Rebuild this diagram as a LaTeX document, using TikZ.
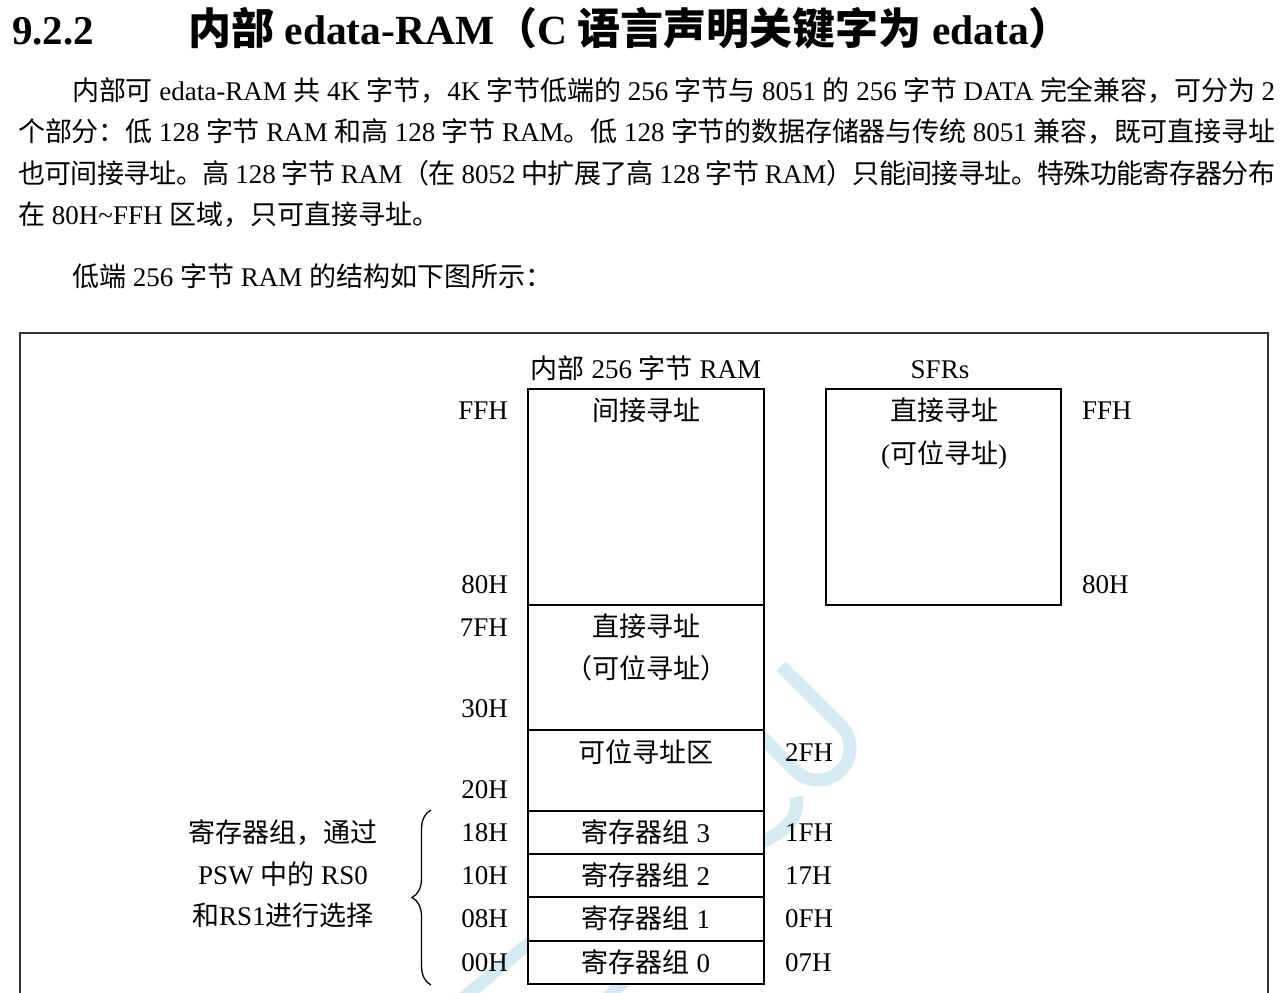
\documentclass[tikz,border=0pt]{standalone}
\usepackage{fontspec}
\setmainfont{Liberation Serif}
\setsansfont{Noto Sans CJK SC}
\usetikzlibrary{decorations.pathreplacing}
% automatic switch between Latin (Liberation Serif) and CJK (Noto Sans CJK SC)
\newXeTeXintercharclass\CJKcls
\newcount\cjkc
\def\setcjkrange#1#2{\cjkc=#1\relax
  \loop\XeTeXcharclass\cjkc=\CJKcls\relax\ifnum\cjkc<#2\advance\cjkc by 1\relax\repeat}
\setcjkrange{"4E00}{"9FFF}
\setcjkrange{"3000}{"303F}
\setcjkrange{"FF00}{"FFEF}
\def\tocjk{\sffamily}
\def\tolat{\rmfamily}
\XeTeXinterchartoks 0 \CJKcls = {\tocjk}
\XeTeXinterchartoks 4095 \CJKcls = {\tocjk}
\XeTeXinterchartoks \CJKcls 0 = {\tolat}
\XeTeXinterchartoks \CJKcls 4095 = {\tolat}
\XeTeXinterchartoks \CJKcls \CJKcls = {\hskip 0pt plus 3pt minus 1.5pt\relax}
\XeTeXinterchartokenstate=1
\definecolor{wmblue}{RGB}{214,234,243}
\tikzset{
  body/.style={anchor=base west, inner sep=0pt, font=\fontsize{27}{32}\selectfont},
  lab/.style={inner sep=0pt, font=\fontsize{27}{32}\selectfont},
  cell/.style={draw=black, line width=1.6pt, fill=white, inner sep=0pt},
  frameline/.style={draw=black!80, line width=1.5pt},
  wm/.style={draw=wmblue, line width=13pt},
  bracestyle/.style={draw=black, line width=1.3pt, decorate, decoration={brace, amplitude=19pt}},
}
\begin{document}
\begin{tikzpicture}[x=1pt,y=-1pt]
\useasboundingbox (0,0) rectangle (1286,993);
% heading
\node[anchor=base west, inner sep=0pt, font=\fontsize{41}{48}\selectfont\bfseries] (secnum) at (12,44) {9.2.2};
\node[anchor=base west, inner sep=0pt, font=\fontsize{41}{48}\selectfont\bfseries] (title) at (188,44)
  {\def\tocjk{\sffamily\fontsize{43}{48}\selectfont}\def\tolat{\rmfamily\fontsize{41.5}{48}\selectfont}内部 edata-RAM（C 语言声明关键字为 edata）};
% paragraph
\node[body] (p1) at (72,100) {\hbox to 1203pt{内部可 edata-RAM 共 4K 字节，4K 字节低端的 256 字节与 8051 的 256 字节 DATA 完全兼容，可分为 2}};
\node[body] (p2) at (18,141) {\hbox to 1257pt{个部分：低 128 字节 RAM 和高 128 字节 RAM。低 128 字节的数据存储器与传统 8051 兼容，既可直接寻址}};
\node[body] (p3) at (18,183) {\hbox to 1257pt{也可间接寻址。高 128 字节 RAM（在 8052 中扩展了高 128 字节 RAM）只能间接寻址。特殊功能寄存器分布}};
\node[body] (p4) at (18,224) {在 80H\textasciitilde FFH 区域，只可直接寻址。};
\node[body] (p5) at (72,286) {低端 256 字节 RAM 的结构如下图所示：};
% frame
\coordinate (fbl) at (20,1000);
\coordinate (ftl) at (20,333);
\coordinate (ftr) at (1268,333);
\coordinate (fbr) at (1268,1000);
\draw[frameline] (fbl) -- (ftl) -- (ftr) -- (fbr);
% watermark
\draw[wm] (781,666) -- (840.6,725.4) arc[start angle=-45, end angle=135, radius=32] -- (740,715);
\draw[wm] (796,797) .. controls (800,815) and (788,832) .. (755,845);
\draw[wm] (545,930) -- (455,1005);
\draw[wm] (650,955) -- (600,1005);
% RAM cells
\node[cell, minimum width=236pt, minimum height=216pt] (ind) at (646,497) {};
\node[cell, minimum width=236pt, minimum height=125pt] (dir) at (646,667.5) {};
\node[cell, minimum width=236pt, minimum height=81pt] (bit) at (646,770.5) {};
\node[cell, minimum width=236pt, minimum height=43pt] (rb3) at (646,832.5) {};
\node[cell, minimum width=236pt, minimum height=43pt] (rb2) at (646,875.5) {};
\node[cell, minimum width=236pt, minimum height=44pt] (rb1) at (646,919) {};
\node[cell, minimum width=236pt, minimum height=43pt] (rb0) at (646,962.5) {};
% SFR cell
\node[cell, minimum width=235pt, minimum height=216pt] (sfr) at (943.5,497) {};
% titles
\node[lab, anchor=base] (ramtitle) at (646,378) {内部 256 字节 RAM};
\node[lab, anchor=base] (sfrtitle) at (940,378) {SFRs};
% cell texts
\node[lab, anchor=base] (tind) at (646,420) {间接寻址};
\node[lab, anchor=base] (tdir1) at (646,636) {直接寻址};
\node[lab, anchor=base] (tdir2) at (646,678) {（可位寻址）};
\node[lab, anchor=base] (tbit) at (646,762) {可位寻址区};
\node[lab, anchor=base] (trb3) at (646,842) {寄存器组 3};
\node[lab, anchor=base] (trb2) at (646,885) {寄存器组 2};
\node[lab, anchor=base] (trb1) at (646,928) {寄存器组 1};
\node[lab, anchor=base] (trb0) at (646,972) {寄存器组 0};
\node[lab, anchor=base] (tsfr1) at (944,420) {直接寻址};
\node[lab, anchor=base] (tsfr2) at (944,463) {(可位寻址)};
% left addresses
\node[lab, anchor=base east] (aFF) at (508,419) {FFH};
\node[lab, anchor=base east] (a80) at (508,593) {80H};
\node[lab, anchor=base east] (a7F) at (508,636) {7FH};
\node[lab, anchor=base east] (a30) at (508,717) {30H};
\node[lab, anchor=base east] (a20) at (508,798) {20H};
\node[lab, anchor=base east] (a18) at (508,841) {18H};
\node[lab, anchor=base east] (a10) at (508,884) {10H};
\node[lab, anchor=base east] (a08) at (508,927) {08H};
\node[lab, anchor=base east] (a00) at (508,971) {00H};
% right addresses
\node[lab, anchor=base west] (a2F) at (785,761) {2FH};
\node[lab, anchor=base west] (a1F) at (785,841) {1FH};
\node[lab, anchor=base west] (a17) at (785,884) {17H};
\node[lab, anchor=base west] (a0F) at (785,927) {0FH};
\node[lab, anchor=base west] (a07) at (785,971) {07H};
\node[lab, anchor=base west] (sFF) at (1082,419) {FFH};
\node[lab, anchor=base west] (s80) at (1082,593) {80H};
% brace and note
\coordinate (brbot) at (431,985);
\coordinate (brtop) at (431,810);
\draw[bracestyle] (brbot) -- (brtop);
\node[lab, anchor=base] (n1) at (283,842) {寄存器组，通过};
\node[lab, anchor=base] (n2) at (283,884) {PSW 中的 RS0};
\node[lab, anchor=base] (n3) at (283,925) {和RS1进行选择};
\end{tikzpicture}
\end{document}
